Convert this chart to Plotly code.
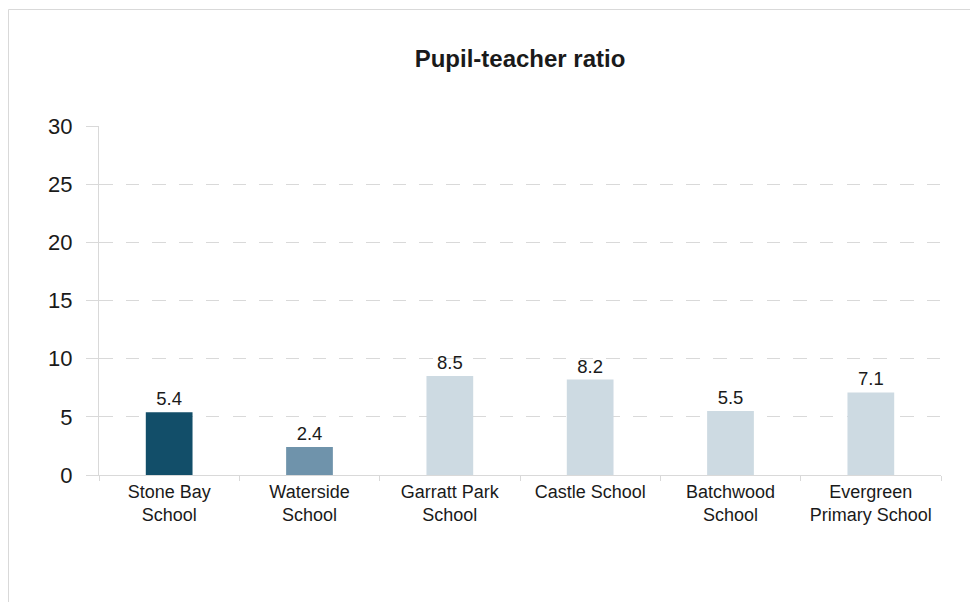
import plotly.graph_objects as go

categories = ["Stone Bay<br>School", "Waterside<br>School", "Garratt Park<br>School",
              "Castle School", "Batchwood<br>School", "Evergreen<br>Primary School"]
values = [5.4, 2.4, 8.5, 8.2, 5.5, 7.1]
bar_colors = ["#124e69", "#6f93ab", "#cddae2", "#cddae2", "#cddae2", "#cddae2"]
y_ticks = [0, 5, 10, 15, 20, 25, 30]

# page has an 8px body offset; positions below are in figure coordinates
W, H = 978, 602
ML, MR, MT, MB = 91, 45, 118, 135
pw = W - ML - MR
ph = H - MT - MB

def px_x(p):
    return (p - ML) / pw

def px_y(p):
    return (H - MB - p) / ph

fig = go.Figure()
fig.add_trace(go.Bar(
    x=categories, y=values,
    marker=dict(color=bar_colors, line=dict(width=0)),
    text=[f"{v:.1f}" for v in values],
    textposition="outside",
    textfont=dict(size=18.5, color="#1a1a1a"),
    cliponaxis=False,
    width=0.333,
))

fig.update_layout(
    width=W, height=H,
    margin=dict(l=ML, r=MR, t=MT, b=MB),
    paper_bgcolor="white", plot_bgcolor="white",
    font=dict(family="Liberation Sans, Arial, sans-serif", color="#1a1a1a"),
    title=dict(text="<b>Pupil-teacher ratio</b>", x=512 / W,
               xanchor="center", y=1 - 51 / H, yanchor="middle",
               font=dict(size=24, color="#1a1a1a")),
    showlegend=False,
    bargap=0.667,
    xaxis=dict(
        type="category", tickson="boundaries", ticks="outside", ticklen=5,
        tickcolor="#d9d9d9", showline=True, linecolor="#d9d9d9", linewidth=1,
        showgrid=False, tickfont=dict(size=18, color="#1a1a1a"), zeroline=False,
    ),
    yaxis=dict(
        range=[0, 30], tickvals=y_ticks, ticks="outside", ticklen=12,
        tickcolor="#d9d9d9", showline=True, linecolor="#d9d9d9", linewidth=1,
        showgrid=True, gridcolor="#d9d9d9", griddash="13.5px,13.2px", gridwidth=1,
        tickfont=dict(size=22, color="#1a1a1a"), zeroline=False,
        ticklabelstandoff=9,
    ),
    shapes=[dict(type="rect", xref="paper", yref="paper",
                 x0=px_x(0.5), x1=px_x(1000), y0=px_y(640), y1=px_y(1.5),
                 line=dict(color="#d9d9d9", width=1), fillcolor="rgba(0,0,0,0)",
                 layer="below")],
)

fig.write_html("out.html")
